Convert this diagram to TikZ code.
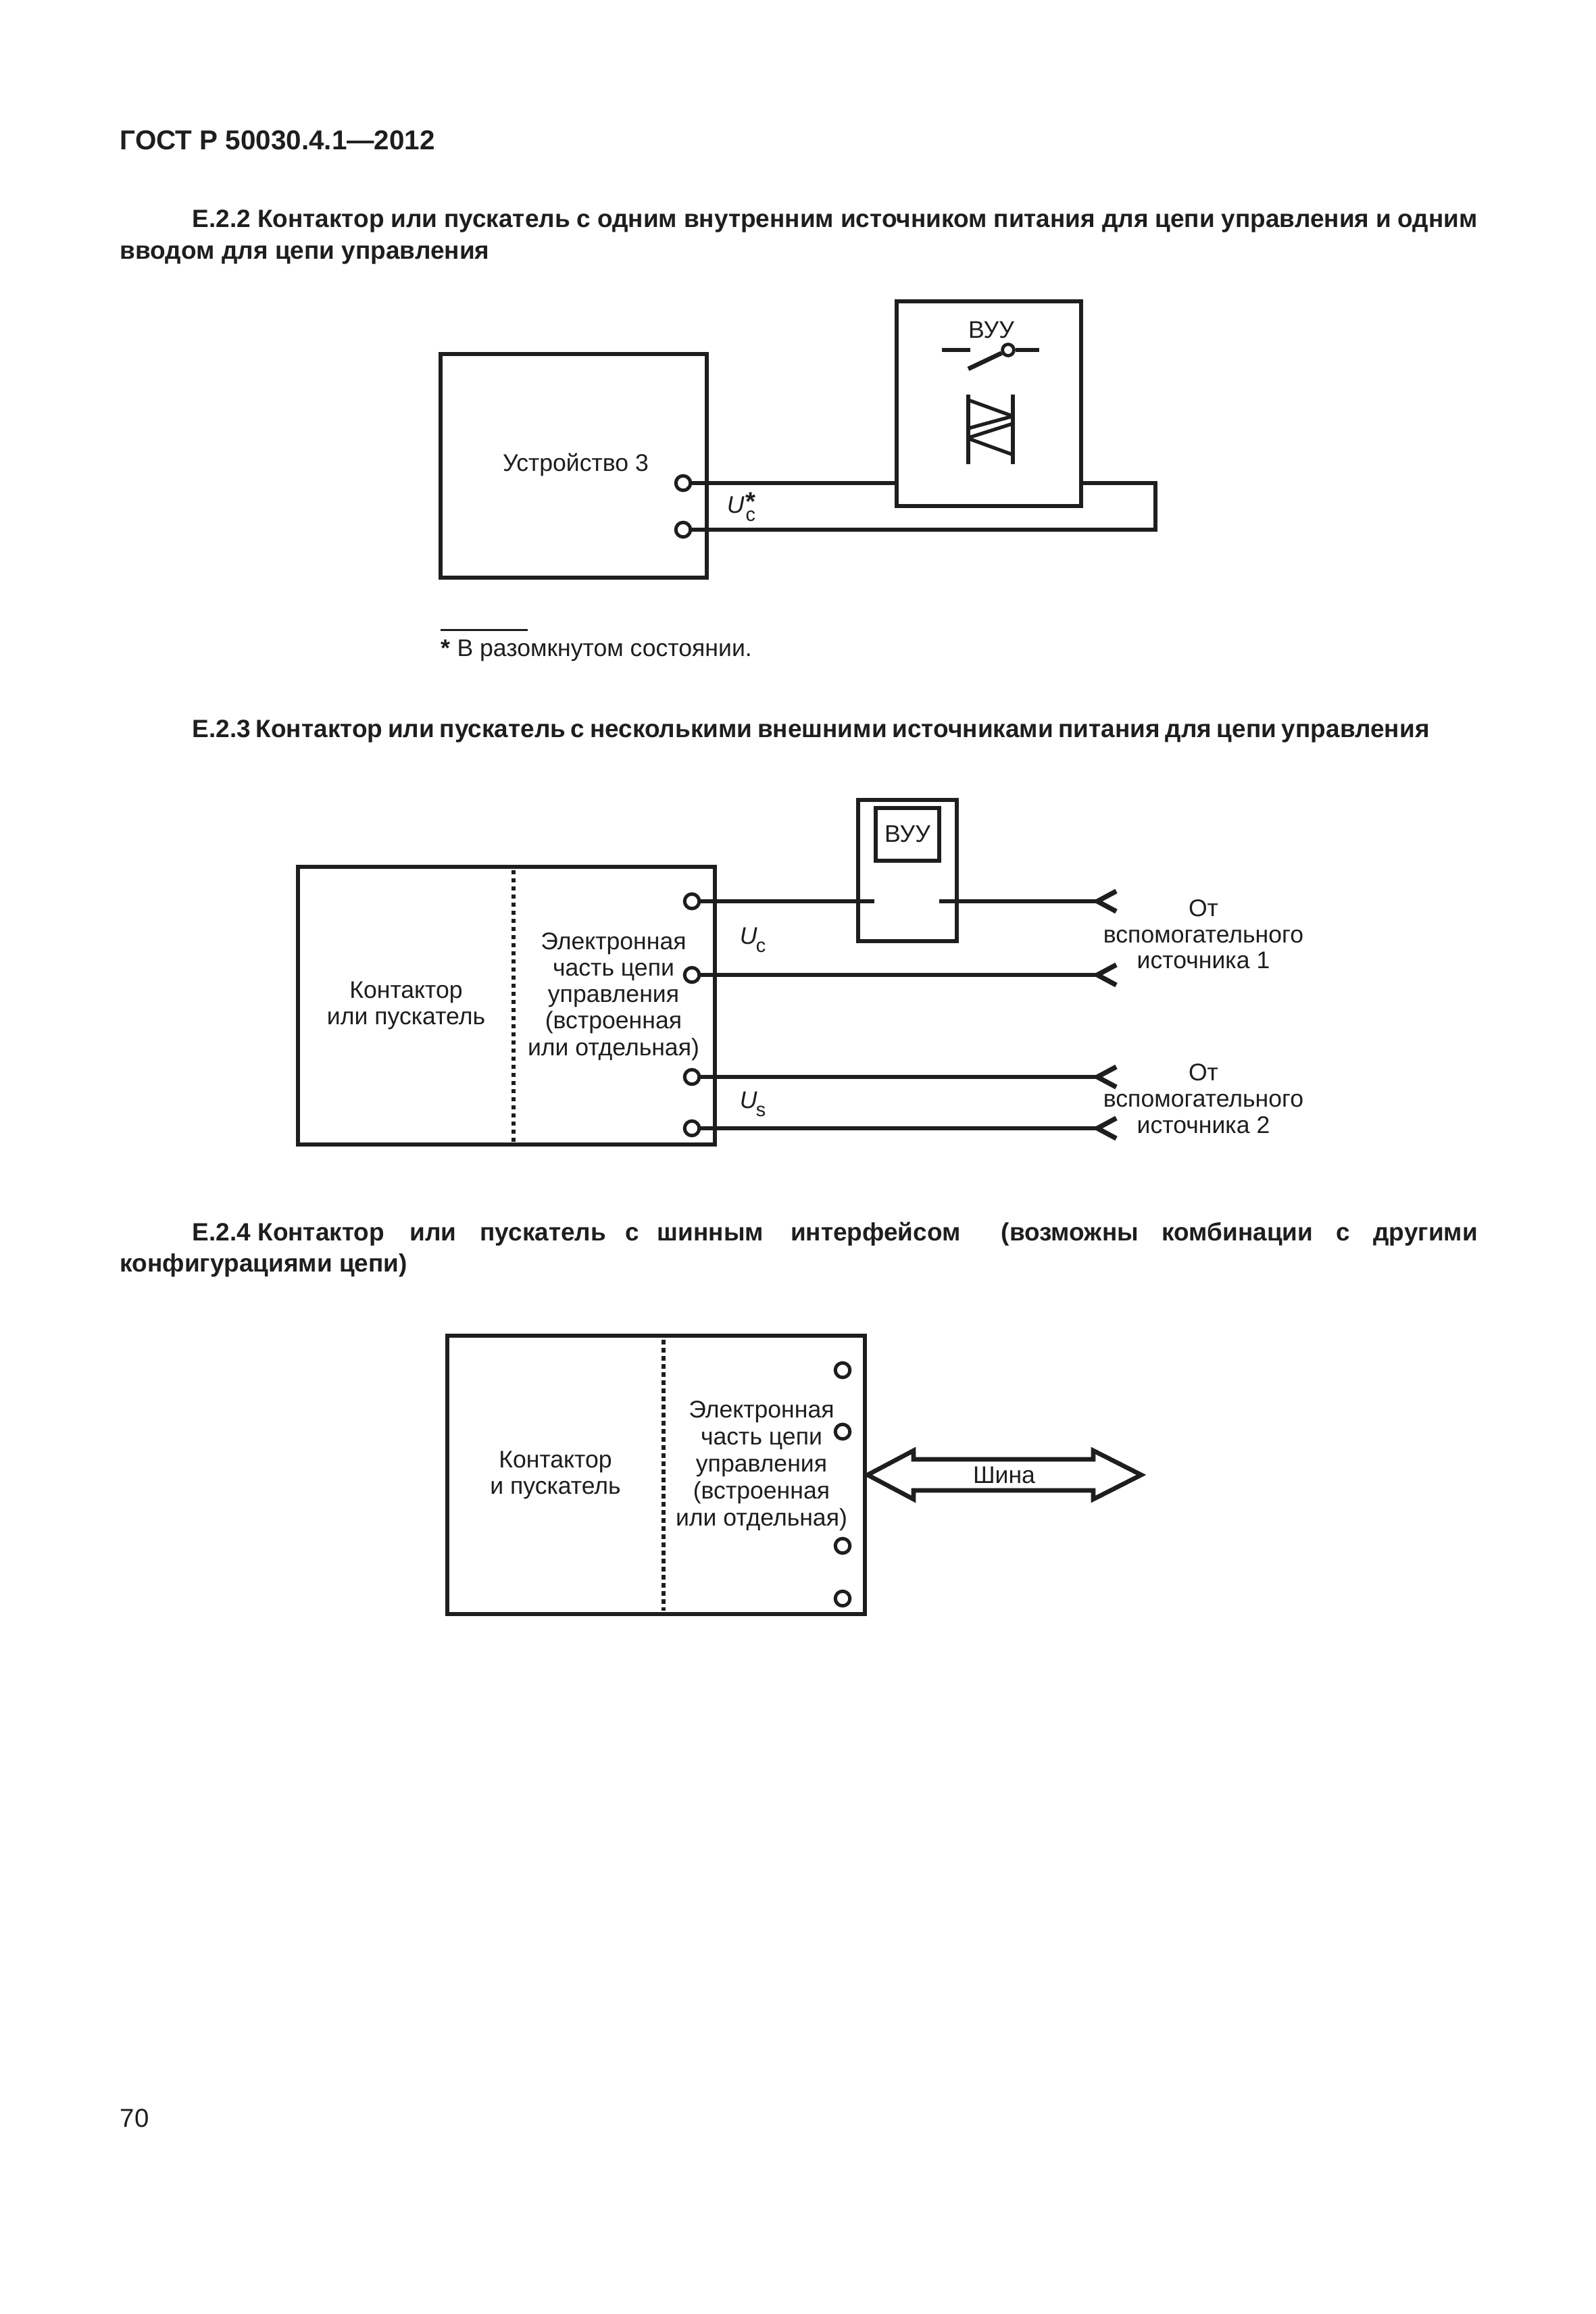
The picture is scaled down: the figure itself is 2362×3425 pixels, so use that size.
\documentclass[tikz,border=0pt]{standalone}
\usepackage{fontspec}
\setmainfont{Liberation Sans}
\newcommand{\txt}{\fontsize{8.9pt}{10pt}\selectfont}
\newcommand{\hd}{\fontsize{9.25pt}{11pt}\selectfont\bfseries}
\newcommand{\ital}[1]{\textit{#1}}
\newcommand{\subsz}{\fontsize{7.2pt}{8pt}\selectfont}
\tikzset{
  x=0.25pt,y=-0.25pt,
  wire/.style={line width=1.65pt},
  box/.style={line width=1.6pt},
  term/.style={circle,draw,fill=white,line width=1.25pt,minimum size=5.4pt,inner sep=0pt},
  lab/.style={inner sep=0pt,anchor=base,align=center,font=\txt},
  hl/.style={inner sep=0pt,anchor=base west},
  sep/.style={line width=1.6pt,dash pattern=on 1.62pt off 1.38pt},
  chev/.style={line width=1.8pt,miter limit=8}
}
\begin{document}
\begin{tikzpicture}
\useasboundingbox (0,0) rectangle (2362,3425);
\fill[white] (0,0) rectangle (2362,3425);
\definecolor{ink}{RGB}{30,30,30}
\begin{scope}[color=ink,text=ink]
% headings
\node[hl] (h0) at (177,222) {\fontsize{10.1pt}{12pt}\selectfont\bfseries ГОСТ Р 50030.4.1—2012};
\node[hl] (h1) at (284,337) {\hd\makebox[475.5pt][s]{Е.2.2 Контактор или пускатель с одним внутренним источником питания для цепи управления и одним}};
\node[hl] (h1b) at (177,383) {\hd вводом для цепи управления};
\node[hl] (h2) at (284,1091) {\hd\makebox[457.7pt][s]{Е.2.3 Контактор или пускатель с несколькими внешними источниками питания для цепи управления}};
\node[hl] (h3) at (284,1836) {\hd\makebox[475.5pt][s]{\mbox{Е.2.4 Контактор}\hskip 9.3pt или\hskip 8.8pt пускатель\hskip 7pt с\hskip 6.8pt шинным\hskip 10pt интерфейсом\hskip 15pt (возможны комбинации с другими}};
\node[hl] (h3b) at (177,1882) {\hd конфигурациями цепи)};
\node[hl] (pg) at (177,3148) {\fontsize{9.6pt}{11pt}\selectfont 70};

% --- E.2.2
\draw[box] (652,524) rectangle (1046,855);
\node[lab] (dev) at (852,697) {Устройство 3};
\node[term] (t1) at (1011,715) {};
\node[term] (t2) at (1011,784) {};
\node[box,draw,minimum width=68.25pt,minimum height=75.75pt,inner sep=0pt] (v) at (1463.5,597.5) {};
\coordinate (c1) at (1710,715);
\coordinate (c2) at (1710,784);
\draw[wire] (t1) -- (t1 -| v.west);
\draw[wire] (t1 -| v.east) -- (c1) -- (c2) -- (t2);
\node[lab] (vt) at (1467,500) {ВУУ};
\coordinate (s1) at (1394,518);
\coordinate (s2) at (1436,518);
\coordinate (s3) at (1433,546);
\coordinate (s5) at (1538,518);
\node[circle,draw,line width=1.2pt,minimum size=4.2pt,inner sep=0pt] (s4) at (1492,518) {};
\draw[wire] (s1) -- (s2);
\draw[wire] (s3) -- (s4);
\draw[wire] (s4) -- (s5);
\coordinate (a1) at (1433,584); \coordinate (a2) at (1433,687);
\coordinate (b1) at (1499,584); \coordinate (b2) at (1499,687);
\draw[wire] (a1) -- (a2);
\draw[wire] (b1) -- (b2);
\coordinate (d1) at (1433,592); \coordinate (d2) at (1499,616);
\coordinate (d3) at (1433,634); \coordinate (d4) at (1499,616);
\coordinate (d5) at (1433,648); \coordinate (d6) at (1499,627);
\coordinate (d7) at (1433,649); \coordinate (d8) at (1499,673);
\draw[wire,line width=1.3pt] (d1) -- (d2);
\draw[wire,line width=1.3pt] (d3) -- (d4);
\draw[wire,line width=1.3pt] (d5) -- (d6);
\draw[wire,line width=1.3pt] (d7) -- (d8);
\node[hl] (u1) at (1075,759) {\txt\ital{U}\hskip 0.5pt\rlap{\raisebox{-3pt}{\subsz c}}\raisebox{0.9pt}{\fontsize{9.6pt}{9pt}\selectfont\bfseries *}};
\coordinate (r1) at (652,932); \coordinate (r2) at (781,932);
\draw[line width=0.75pt] (r1) -- (r2);
\node[hl] (fn) at (652,971) {\txt\textbf{*} В разомкнутом состоянии.};

% --- E.2.3
\draw[box] (441,1283) rectangle (1058,1694);
\coordinate (ds1) at (760,1288); \coordinate (ds2) at (760,1690);
\draw[sep] (ds1) -- (ds2);
\node[lab] (k1) at (601,1477) {Контактор};
\node[lab] (k2) at (601,1516) {или пускатель};
\foreach \n/\t/\yy in {e1/Электронная/1405,e2/часть цепи/1444,e3/управления/1483,e4/(встроенная/1522,e5/или отдельная)/1562}
  \node[lab] (\n) at (908,\yy) {\t};
\node[term] (p1) at (1024,1334) {};
\node[term] (p2) at (1024,1443) {};
\node[term] (p3) at (1024,1594) {};
\node[term] (p4) at (1024,1670) {};
\draw[box] (1270,1184) rectangle (1416,1393);
\node[box,draw,minimum width=23.5pt,minimum height=19.5pt,inner sep=0pt] (iv) at (1343,1235) {};
\node[lab] (ivt) at (1343,1246) {ВУУ};
\coordinate (g1) at (1294,1334); \coordinate (g2) at (1390,1334);
\foreach \n/\yy in {q1/1334,q2/1443,q3/1594,q4/1670}{
  \coordinate (\n) at (1624,\yy);
  \coordinate (\n u) at (1652,\yy-15);
  \coordinate (\n d) at (1652,\yy+15);
  \draw[chev] (\n u) -- (\n) -- (\n d);
}
\draw[wire] (p1) -- (g1);
\draw[wire] (g2) -- (q1);
\draw[wire] (p2) -- (q2);
\draw[wire] (p3) -- (q3);
\draw[wire] (p4) -- (q4);
\node[hl] (uc) at (1094,1397) {\txt\ital{U}};
\node[hl] (ucs) at (1118,1409) {\subsz c};
\node[hl] (us) at (1094,1640) {\txt\ital{U}};
\node[hl] (uss) at (1118,1652) {\subsz s};
\foreach \n/\t/\yy in {o1/От/1356,o2/вспомогательного/1395,o3/источника 1/1433,o4/От/1599,o5/вспомогательного/1638,o6/источника 2/1677}
  \node[lab] (\n) at (1781,\yy) {\t};

% --- E.2.4
\draw[box] (662,1977) rectangle (1280,2389);
\coordinate (dt1) at (982,1983); \coordinate (dt2) at (982,2384);
\draw[sep] (dt1) -- (dt2);
\node[lab] (kk1) at (822,2172) {Контактор};
\node[lab] (kk2) at (822,2211) {и пускатель};
\foreach \n/\t/\yy in {f1/Электронная/2098,f2/часть цепи/2138,f3/управления/2178,f4/(встроенная/2218,f5/или отдельная)/2258}
  \node[lab] (\n) at (1127,\yy) {\t};
\foreach \n/\yy in {w1/2028,w2/2119,w3/2288,w4/2366}
  \node[term] (\n) at (1247,\yy) {};
\draw[wire,miter limit=8,fill=white] (1284,2183) -- (1352,2147) -- (1352,2160) -- (1618,2160) -- (1618,2147) -- (1689,2183) -- (1618,2219) -- (1618,2206) -- (1352,2206) -- (1352,2219) -- cycle;
\node[lab] (sh) at (1486,2195) {Шина};
\end{scope}
\end{tikzpicture}
\end{document}
